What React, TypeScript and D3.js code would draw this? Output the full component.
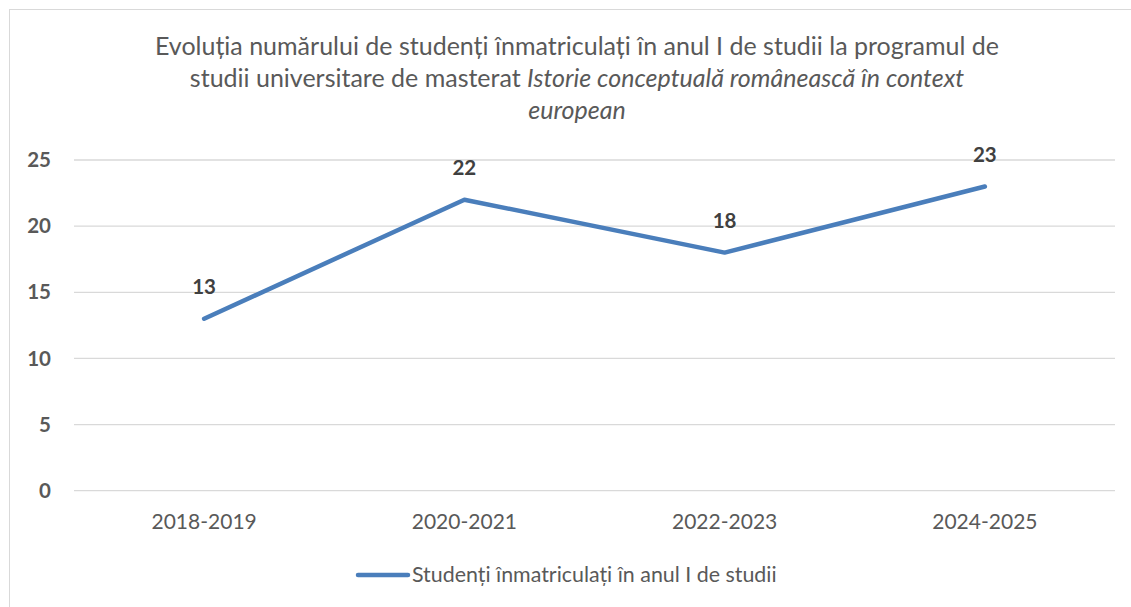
import React from "react";
import * as d3 from "d3";

const categories = ["2018-2019", "2020-2021", "2022-2023", "2024-2025"];
const values = [13, 22, 18, 23];
const yTicks = [0, 5, 10, 15, 20, 25];
const seriesName = "Studenți înmatriculați în anul I de studii";

const W = 1131;
const H = 607;
const FONT = "Lato, 'Open Sans', sans-serif";

export default function App() {
  const x = d3.scaleBand<string>().domain(categories).range([74, 1115]);
  const y = d3.scaleLinear().domain([0, 25]).range([490.7, 160]);
  const line = d3
    .line<number>()
    .x((_, i) => (x(categories[i]) as number) + x.bandwidth() / 2)
    .y((d) => y(d));

  return (
    <svg
      width={W}
      height={H}
      style={{ position: "absolute", left: 0, top: 0, background: "#fff" }}
      fontFamily={FONT}
    >
      <rect x={9.5} y={9.5} width={1200} height={700} fill="#fff" stroke="#d9d9d9" strokeWidth={1} />
      <g fill="#595959" fontSize={25} textAnchor="middle">
        <text x={577} y={55}>
          Evoluția numărului de studenți înmatriculați în anul I de studii la programul de
        </text>
        <text x={577} y={87}>
          <tspan>studii universitare de masterat </tspan>
          <tspan fontStyle="italic">Istorie conceptuală românească în context</tspan>
        </text>
        <text x={577} y={119} fontStyle="italic">
          european
        </text>
      </g>
      {yTicks.map((t) => (
        <g key={t}>
          <line x1={74} x2={1115} y1={y(t)} y2={y(t)} stroke="#d9d9d9" strokeWidth={1.3} />
          <text
            x={51}
            y={y(t)}
            dy="0.35em"
            textAnchor="end"
            fontWeight="bold"
            fontSize={20.5}
            fill="#595959"
          >
            {t}
          </text>
        </g>
      ))}
      {categories.map((c) => (
        <text
          key={c}
          x={(x(c) as number) + x.bandwidth() / 2}
          y={522}
          dy="0.35em"
          textAnchor="middle"
          fontSize={21}
          fill="#595959"
        >
          {c}
        </text>
      ))}
      <path
        d={line(values) || ""}
        fill="none"
        stroke="#4a7ebb"
        strokeWidth={4.5}
        strokeLinecap="round"
        strokeLinejoin="round"
      />
      {values.map((v, i) => (
        <text
          key={i}
          x={(x(categories[i]) as number) + x.bandwidth() / 2}
          y={y(v) - 32}
          dy="0.35em"
          textAnchor="middle"
          fontWeight="bold"
          fontSize={20.5}
          fill="#404040"
        >
          {v}
        </text>
      ))}
      <line x1={358} x2={408} y1={575} y2={575} stroke="#4a7ebb" strokeWidth={4.5} strokeLinecap="round" />
      <text x={412} y={575} dy="0.35em" fontSize={21.4} fill="#595959">
        {seriesName}
      </text>
    </svg>
  );
}
